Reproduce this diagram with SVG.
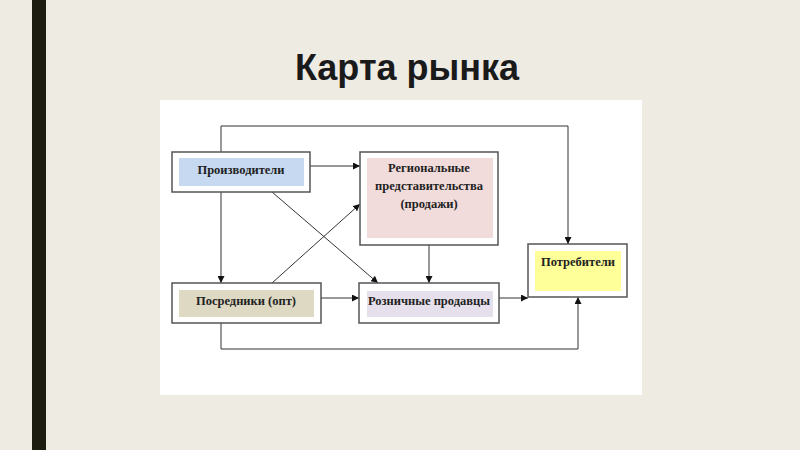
<svg xmlns="http://www.w3.org/2000/svg" width="800" height="450" viewBox="0 0 800 450">
<defs>
<marker id="arr" viewBox="0 0 10 10" refX="10" refY="5" markerWidth="7" markerHeight="7" orient="auto" markerUnits="userSpaceOnUse">
<path d="M0,0 L10,5 L0,10 z" fill="#111"/>
</marker>
<style>
.outer{fill:#fff;stroke:#555;stroke-width:1.5}
.lbl{font-family:"Liberation Serif","DejaVu Serif",serif;font-weight:bold;font-size:12.5px;fill:#222;text-anchor:middle}
.con{fill:none;stroke:#333;stroke-width:1}
</style>
</defs>
<rect width="800" height="450" fill="#EEEBE3"/>
<rect x="32" y="0" width="14" height="450" fill="#1C1C10"/>
<text x="407" y="80" font-family="'Liberation Sans',Arial,sans-serif" font-size="36" font-weight="bold" fill="#1a1a1a" text-anchor="middle">Карта рынка</text>
<rect x="160" y="100" width="482" height="295" fill="#fff"/>

<g id="connectors">
<path class="con" d="M221,152 V126 H568 V244" marker-end="url(#arr)"/>
<path class="con" d="M310,166 H360" marker-end="url(#arr)"/>
<path class="con" d="M221,192 V283" marker-end="url(#arr)"/>
<path class="con" d="M272,192 L378,283" marker-end="url(#arr)"/>
<path class="con" d="M272,283 L360,204" marker-end="url(#arr)"/>
<path class="con" d="M429,245 V283" marker-end="url(#arr)"/>
<path class="con" d="M321,298 H359" marker-end="url(#arr)"/>
<path class="con" d="M499,298 H528" marker-end="url(#arr)"/>
<path class="con" d="M221,323 V349 H578 V297" marker-end="url(#arr)"/>
</g>

<g id="producers">
<rect class="outer" x="172" y="152" width="138" height="40"/>
<rect x="179" y="158" width="125" height="28" fill="#C6D9F1"/>
<text class="lbl" x="241" y="174">Производители</text>
</g>

<g id="regional">
<rect class="outer" x="360" y="152" width="138" height="93"/>
<rect x="367" y="158" width="126" height="80" fill="#F2DCDB"/>
<text class="lbl" x="429" y="172">Региональные</text>
<text class="lbl" x="429" y="190">представительства</text>
<text class="lbl" x="429" y="208">(продажи)</text>
</g>

<g id="intermediaries">
<rect class="outer" x="172" y="283" width="149" height="40"/>
<rect x="179" y="290" width="135" height="27" fill="#DDD9C3"/>
<text class="lbl" x="246" y="305">Посредники (опт)</text>
</g>

<g id="retailers">
<rect class="outer" x="359" y="283" width="140" height="40"/>
<rect x="367" y="291" width="126" height="26" fill="#E5E0EC"/>
<text class="lbl" x="429" y="305">Розничные продавцы</text>
</g>

<g id="consumers">
<rect class="outer" x="528" y="244" width="99" height="53"/>
<rect x="535" y="251" width="86" height="40" fill="#FFFF99"/>
<text class="lbl" x="578" y="266">Потребители</text>
</g>
</svg>
